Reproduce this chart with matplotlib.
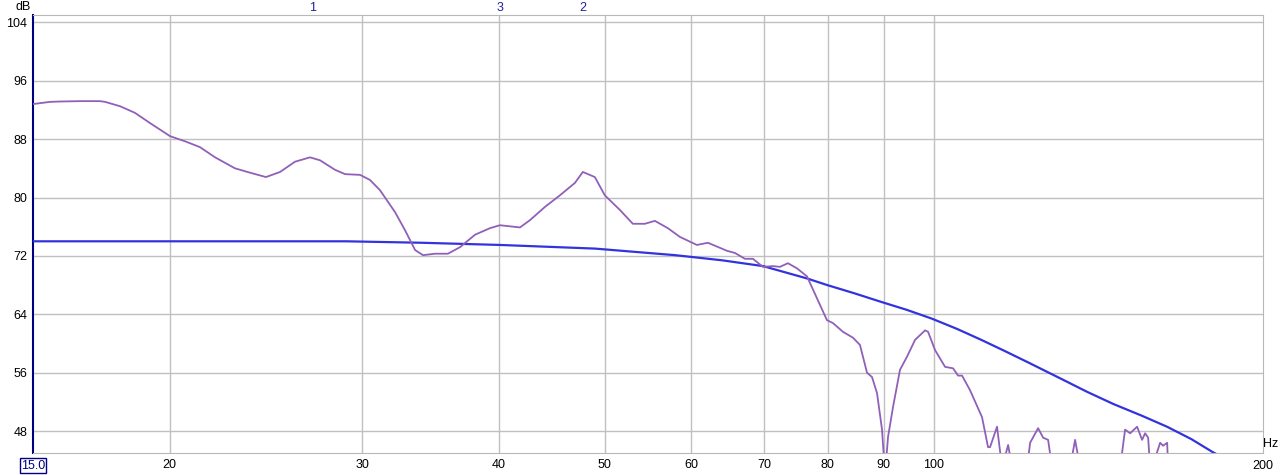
import matplotlib.pyplot as plt
import numpy as np

# measured response (purple)
meas_hz = [15.0, 15.55, 15.88, 16.56, 17.27, 17.46, 18.02, 18.59, 19.19, 20.02, 20.66,
           21.32, 22.01, 22.95, 23.69, 24.50, 25.24, 26.04, 26.88, 27.45, 28.33, 28.94,
           29.87, 30.50, 31.15, 32.15, 32.84, 33.54, 34.10, 34.98, 35.94, 36.87, 38.05,
           39.27, 40.10, 41.83, 42.72, 44.08, 45.50, 46.96, 47.75, 48.97, 50.01, 51.62,
           53.05, 54.41, 55.57, 57.11, 58.58, 60.71, 62.14, 64.68, 65.78, 67.18, 68.32,
           69.77, 71.26, 72.32, 73.54, 74.95, 76.55, 79.84, 80.85, 82.58, 84.33, 85.59,
           86.87, 87.79, 88.72, 89.66, 90.23, 90.80, 91.76, 93.12, 94.51, 96.12, 98.17,
           98.79, 100.25, 102.39, 104.13, 105.23, 106.12, 107.92, 110.68, 112.09, 112.56,
           114.23, 115.45, 116.93, 117.92, 121.70, 122.47, 124.55, 125.87, 127.20, 128.28,
           133.23, 134.64, 136.07, 148.03, 149.59, 151.18, 153.42, 155.04, 156.04, 157.03,
           157.69, 158.35, 161.04, 162.07, 163.44, 163.78]
meas_db = [92.8, 93.1, 93.15, 93.2, 93.2, 93.1, 92.5, 91.6, 90.2, 88.4, 87.7,
           86.9, 85.5, 84.0, 83.4, 82.8, 83.5, 84.9, 85.5, 85.1, 83.8, 83.2,
           83.1, 82.4, 81.0, 78.0, 75.5, 72.8, 72.1, 72.3, 72.3, 73.2, 74.9,
           75.8, 76.2, 75.9, 76.9, 78.7, 80.3, 82.0, 83.5, 82.8, 80.3, 78.3,
           76.4, 76.4, 76.8, 75.8, 74.6, 73.5, 73.8, 72.7, 72.4, 71.6, 71.6,
           70.5, 70.6, 70.5, 71.0, 70.3, 69.2, 63.2, 62.8, 61.6, 60.8, 59.8,
           56.0, 55.4, 53.2, 48.2, 42.0, 47.2, 51.3, 56.4, 58.2, 60.5, 61.8,
           61.6, 59.1, 56.8, 56.6, 55.6, 55.6, 53.6, 49.9, 45.8, 45.8,
           48.6, 43.0, 46.1, 43.0, 43.0, 46.4, 48.4, 47.1, 46.8, 43.0,
           43.0, 46.8, 43.0, 43.0, 48.2, 47.7, 48.6, 46.8, 47.7, 47.1,
           43.0, 43.0, 46.4, 46.0, 46.4, 43.0]

# target curve (blue)
target_hz = [15.0, 20.0, 25.0, 29.0, 34.0, 40.1, 49.0, 58.0, 64.0, 69.8, 76.6, 79.9,
             84.5, 89.5, 94.5, 99.6, 105.0, 110.5, 116.0, 122.0, 131.0, 138.0, 146.0,
             155.0, 163.4, 172.0, 180.0, 190.0, 200.0]
target_db = [74.0, 74.0, 74.0, 74.0, 73.8, 73.5, 73.0, 72.1, 71.4, 70.6, 68.9, 68.0,
             66.9, 65.7, 64.6, 63.4, 62.0, 60.5, 59.0, 57.4, 55.1, 53.4, 51.7,
             50.1, 48.6, 46.9, 45.1, 43.3, 41.6]

markers = [('1', 27.05), ('3', 40.1), ('2', 47.7)]
x_ticks = [20, 30, 40, 50, 60, 70, 80, 90, 100]
y_ticks = [48, 56, 64, 72, 80, 88, 96, 104]

plt.rcParams['font.family'] = ['Liberation Sans', 'DejaVu Sans']
fs = 9

fig = plt.figure(figsize=(12.88, 4.75), dpi=100, facecolor='white')
ax = fig.add_axes([33 / 1288, 1 - 453 / 475, 1230 / 1288, 438 / 475])
ax.set_xscale('log')
ax.set_xlim(15, 200)
ax.set_ylim(45, 105)

ax.plot(target_hz, target_db, color='#3333dd', lw=1.6, zorder=3)
ax.plot(meas_hz, meas_db, color='#9060b8', lw=1.3, zorder=4)

ax.set_xticks(x_ticks)
ax.set_xticklabels([str(t) for t in x_ticks])
ax.xaxis.set_minor_locator(plt.NullLocator())
ax.set_yticks(y_ticks)
ax.set_yticklabels([str(t) for t in y_ticks])
ax.tick_params(length=0, labelsize=fs, colors='black', pad=4)
ax.grid(True, color='#c0c0c0', lw=1)
ax.set_axisbelow(True)

for side in ['top', 'right', 'bottom']:
    ax.spines[side].set_color('#b8b8b8')
ax.spines['left'].set_color('#000080')
ax.spines['left'].set_linewidth(1.5)

# axis edge labels
ax.text(15, 44.1, '15.0', ha='center', va='top', fontsize=fs, color='#000080',
        bbox=dict(boxstyle='square,pad=0.1', fc='white', ec='#000080', lw=1))
ax.text(200, 44.1, '200', ha='center', va='top', fontsize=fs)
ax.text(200, 45.4, 'Hz', ha='left', va='bottom', fontsize=fs)
fig.text(23 / 1288, 1 - 7 / 475, 'dB', ha='center', va='center', fontsize=fs)

for label, f in markers:
    ax.text(f, 105.15, label, ha='center', va='bottom', fontsize=fs, color='#2020a0')

fig.savefig('out.png', dpi=100, facecolor='white')
